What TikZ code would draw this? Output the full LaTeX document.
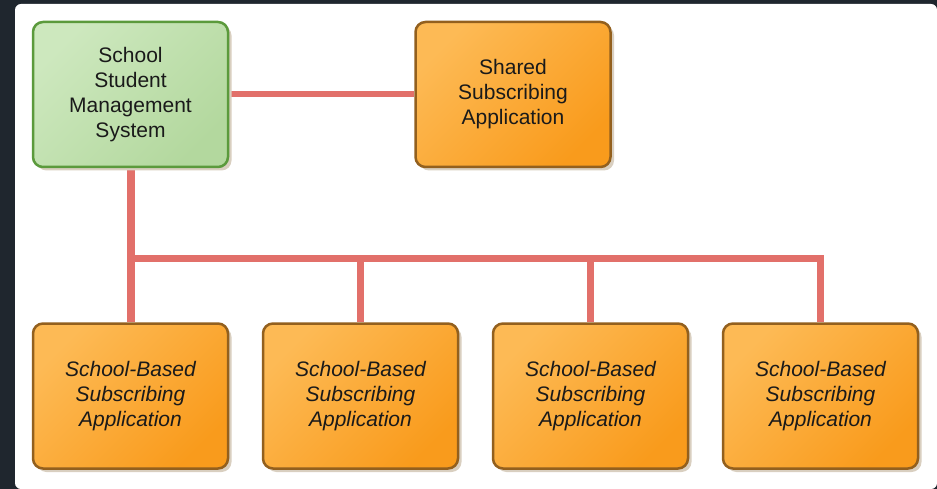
\documentclass[tikz,border=0pt]{standalone}
\usepackage{fontspec}
\setmainfont{Liberation Sans}
\usetikzlibrary{shadows,backgrounds}
\definecolor{darkbg}{HTML}{1F262E}
\definecolor{conncol}{HTML}{E2706A}
\definecolor{greenL}{HTML}{CDE8BE}
\definecolor{greenD}{HTML}{B3D89E}
\definecolor{greenB}{HTML}{5B9A3C}
\definecolor{orangeL}{HTML}{FDBA55}
\definecolor{orangeD}{HTML}{F99B1C}
\definecolor{orangeB}{HTML}{93601E}
\definecolor{shadowc}{HTML}{D9CFC0}
\definecolor{textc}{HTML}{1A1A1A}
\tikzset{
  boxbase/.style={rectangle, rounded corners=10pt, line width=2.5pt,
    minimum width=195pt, minimum height=145pt, align=center,
    text=textc, font=\fontsize{21}{25}\selectfont,
    drop shadow={shadow xshift=3.5pt, shadow yshift=-3.5pt, fill=shadowc, opacity=1}},
  greenbox/.style={boxbase, draw=greenB, top color=greenL, bottom color=greenD, shading angle=45},
  orangebox/.style={boxbase, draw=orangeB, top color=orangeL, bottom color=orangeD, shading angle=45},
  italbox/.style={orangebox, font=\fontsize{21}{25}\selectfont\itshape},
  conn/.style={draw=conncol, line width=7pt, line join=miter}
}
\begin{document}
\begin{tikzpicture}[x=1pt,y=-1pt]
\useasboundingbox (0,0) rectangle (937,489);

\node[greenbox] (ssms) at (130.5,94.5) {School\\Student\\Management\\System};
\node[orangebox] (shared) at (513,94.5) {Shared\\Subscribing\\Application};
\node[italbox] (b1) at (130.5,396) {School-Based\\Subscribing\\Application};
\node[italbox] (b2) at (360.5,396) {School-Based\\Subscribing\\Application};
\node[italbox] (b3) at (590.5,396) {School-Based\\Subscribing\\Application};
\node[italbox] (b4) at (820.5,396) {School-Based\\Subscribing\\Application};
\coordinate (bus) at (130.5,258);

\begin{pgfonlayer}{background}
\fill[darkbg] (0,0) rectangle (937,489);
\fill[white, rounded corners=6pt] (15,4) rectangle (937,489);
\draw[conn, line width=6pt] (ssms) -- (shared);
\draw[conn, line width=8pt] (ssms.south) -- (b1.north);
\draw[conn, line width=7pt] (bus) -- (bus -| b4.north) -- (b4.north);
\draw[conn, line width=6.5pt] (bus -| b2.north) -- (b2.north);
\draw[conn, line width=6.5pt] (bus -| b3.north) -- (b3.north);
\end{pgfonlayer}
\end{tikzpicture}
\end{document}
